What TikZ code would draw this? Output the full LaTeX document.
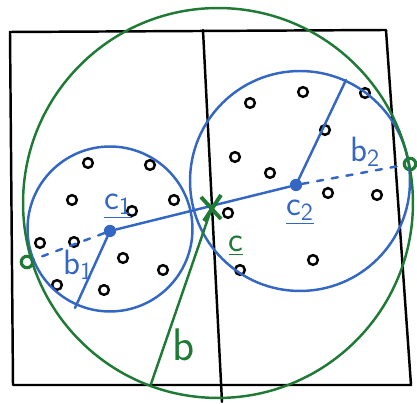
\documentclass[tikz,border=0pt]{standalone}
\usepackage{fontspec}
\usepackage{tikz}
\usetikzlibrary{positioning, calc}
\definecolor{penblue}{RGB}{52,102,196}
\definecolor{pengreen}{RGB}{30,122,52}

\begin{document}
\begin{tikzpicture}[x=0.02cm, y=-0.02cm,
  ink/.style={line width=1.4pt, line cap=round, line join=round},
  pt/.style={draw, circle, line width=1.4pt, inner sep=0pt, minimum size=5.5pt},
  ctr/.style={circle, fill=penblue, inner sep=0pt, minimum size=7pt},
  endpt/.style={circle, draw=pengreen, line width=1.8pt, inner sep=0pt, minimum size=6.5pt},
  lbl/.style={font=\sffamily\fontsize{20}{22}\selectfont, inner sep=1pt}]
  \useasboundingbox (0,0) rectangle (417,404);
  % square and middle line
  \coordinate (tl) at (10,32);
  \coordinate (tr) at (386,30);
  \coordinate (br) at (411,385);
  \coordinate (bl) at (13,385);
  \coordinate (mt) at (203,30);
  \coordinate (mb) at (222,402);
  \draw[ink] (tl) -- (tr) -- (br) -- (bl) -- cycle;
  \draw[ink] (mt) -- (mb);
  % points
  \foreach \p [count=\i] in {(88,163),(150,165),(72,200),(174,200),(132,211),(40,243),
      (74,242),(123,258),(163,270),(57,285),(104,290),(250,103),(303,92),(365,93),
      (325,130),(235,157),(270,173),(328,193),(377,195),(228,213),(313,260),(240,270)}
    \node[pt] (p\i) at \p {};
  % centres and enclosing circles
  \node[ctr] (c1) at (110,231) {};
  \node[ctr] (c2) at (296,185) {};
  \coordinate (c) at (212,207);
  \coordinate (r1) at (75,308);
  \coordinate (r2) at (346,80);
  \node[endpt] (e1) at (27,262) {};
  \node[endpt] (e2) at (410,164) {};
  \draw[penblue, ink] (110,229) circle[radius=1.65cm];
  \draw[penblue, ink] (300,181) circle[radius=2.2cm];
  \draw[pengreen, ink] (218,203) circle[radius=3.9cm];
  \draw[penblue, ink] (c1) -- (c2);
  \draw[penblue, ink] (c1) -- (r1);
  \draw[penblue, ink] (c2) -- (r2);
  \draw[penblue, ink, dash pattern=on 3.5pt off 5pt] (c1) -- (e1);
  \draw[penblue, ink, dash pattern=on 3.5pt off 5pt] (c2) -- (e2);
  % big centre and radius
  \coordinate (rb) at (151,384);
  \draw[pengreen, ink] (c) -- (rb);
  \draw[pengreen, line width=2.2pt] ($(c)+(-11,-10)$) -- ($(c)+(9,12)$);
  \draw[pengreen, line width=2.2pt] ($(c)+(9,-12)$) -- ($(c)+(-8,14)$);
  % labels
  \node[lbl, text=penblue] (lc1) at (118,206) {\underline{c\textsubscript{1}}};
  \node[lbl, text=penblue] (lb1) at (78,265) {b\textsubscript{1}};
  \node[lbl, text=penblue] (lc2) at (300,212) {\underline{c\textsubscript{2}}};
  \node[lbl, text=penblue] (lb2) at (365,152) {b\textsubscript{2}};
  \node[lbl, text=pengreen] (lc) at (236,246) {\underline{c}};
  \node[lbl, text=pengreen, font=\sffamily\fontsize{26}{28}\selectfont] (lb) at (184,345) {b};
\end{tikzpicture}
\end{document}
